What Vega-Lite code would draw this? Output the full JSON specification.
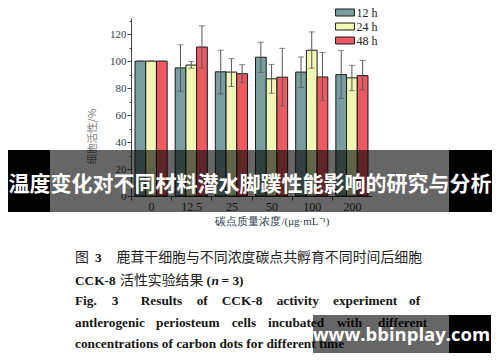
{
  "$schema": "https://vega.github.io/schema/vega-lite/v6.json",
  "width": 241,
  "height": 178,
  "autosize": {"type": "none"},
  "padding": {"left": 131, "top": 18, "right": 128, "bottom": 166},
  "background": "white",
  "config": {"view": {"stroke": null}},
  "datasets": {
    "bars": [
      {"conc": "0", "time": "12 h", "mean": 100, "lo": 100, "hi": 100},
      {"conc": "0", "time": "24 h", "mean": 100, "lo": 100, "hi": 100},
      {"conc": "0", "time": "48 h", "mean": 100, "lo": 100, "hi": 100},
      {"conc": "12.5", "time": "12 h", "mean": 95, "lo": 77.6, "hi": 112.1},
      {"conc": "12.5", "time": "24 h", "mean": 97.1, "lo": 94.8, "hi": 99.8},
      {"conc": "12.5", "time": "48 h", "mean": 110.5, "lo": 94.8, "hi": 126.2},
      {"conc": "25", "time": "12 h", "mean": 92.1, "lo": 75.7, "hi": 108.1},
      {"conc": "25", "time": "24 h", "mean": 91.9, "lo": 81.2, "hi": 101.9},
      {"conc": "25", "time": "48 h", "mean": 90.7, "lo": 84.3, "hi": 97.4},
      {"conc": "50", "time": "12 h", "mean": 102.9, "lo": 91.7, "hi": 114},
      {"conc": "50", "time": "24 h", "mean": 86.9, "lo": 76.2, "hi": 97.6},
      {"conc": "50", "time": "48 h", "mean": 88.1, "lo": 66.7, "hi": 109.5},
      {"conc": "100", "time": "12 h", "mean": 91.9, "lo": 80.5, "hi": 103.1},
      {"conc": "100", "time": "24 h", "mean": 108.1, "lo": 94.8, "hi": 121.7},
      {"conc": "100", "time": "48 h", "mean": 88.3, "lo": 70.7, "hi": 106.4},
      {"conc": "200", "time": "12 h", "mean": 90, "lo": 72.4, "hi": 107.9},
      {"conc": "200", "time": "24 h", "mean": 87.6, "lo": 78.1, "hi": 96.9},
      {"conc": "200", "time": "48 h", "mean": 89.3, "lo": 78.6, "hi": 100.5}
    ],
    "cn": [
      {"t": "图", "x": 75, "y": 258},
      {"t": "鹿茸干细胞与不同浓度碳点共孵育不同时间后细胞", "x": 116.5, "y": 258},
      {"t": "活性实验结果", "x": 120, "y": 281}
    ],
    "en": [
      {"t": "3", "x": 95, "y": 258},
      {"t": "CCK-8", "x": 75, "y": 281},
      {"t": "(", "x": 206.5, "y": 281},
      {"t": "= 3)", "x": 221.5, "y": 281},
      {"t": "Fig.", "x": 75, "y": 301},
      {"t": "3", "x": 111.7, "y": 301},
      {"t": "Results", "x": 140.7, "y": 301},
      {"t": "of", "x": 196.7, "y": 301},
      {"t": "CCK-8", "x": 221.7, "y": 301},
      {"t": "activity", "x": 276.7, "y": 301},
      {"t": "experiment", "x": 333, "y": 301},
      {"t": "of", "x": 409, "y": 301},
      {"t": "antlerogenic", "x": 75, "y": 322.5},
      {"t": "periosteum", "x": 156, "y": 322.5},
      {"t": "cells", "x": 231.7, "y": 322.5},
      {"t": "incubated", "x": 268, "y": 322.5},
      {"t": "with", "x": 337, "y": 322.5},
      {"t": "different", "x": 378, "y": 322.5},
      {"t": "concentrations of carbon dots for different time", "x": 75, "y": 344}
    ],
    "enItalic": [
      {"t": "n", "x": 211.5, "y": 281}
    ],
    "blackRects": [
      {"x": 8, "x2": 50, "y": 150, "y2": 212},
      {"x": 449, "x2": 492, "y": 150, "y2": 212},
      {"x": 449, "x2": 491, "y": 315, "y2": 353}
    ],
    "grayRects": [
      {"x": 50, "x2": 449, "y": 150, "y2": 212},
      {"x": 313, "x2": 449, "y": 315, "y2": 353}
    ],
    "banner": [
      {"t": "温度变化对不同材料潜水脚蹼性能影响的研究与分析", "x": 250, "y": 184.5}
    ],
    "wm": [
      {"t": "www.bbinplay.com", "x": 401.5, "y": 335}
    ]
  },
  "layer": [
    {
      "data": {"name": "bars"},
      "mark": {"type": "bar", "stroke": "#1a1a1a", "strokeWidth": 1},
      "encoding": {
        "x": {
          "field": "conc", "type": "nominal",
          "sort": ["0", "12.5", "25", "50", "100", "200"],
          "scale": {"paddingInner": 0.2, "paddingOuter": 0.1},
          "title": "碳点质量浓度/(μg·mL⁻¹)",
          "axis": {
            "labelAngle": 0, "labelFont": "Liberation Serif", "labelFontSize": 12, "labelColor": "#333333",
            "tickOffset": -20.08, "labelOffset": 20.08, "tickSize": 4, "domainColor": "#444444", "tickColor": "#444444",
            "labelPadding": 1, "titleFont": "Liberation Serif", "titleFontSize": 11, "titleFontWeight": "normal",
            "titleColor": "#2a3a4a", "titleX": 141, "titlePadding": 3
          }
        },
        "xOffset": {"field": "time", "type": "nominal", "scale": {"paddingInner": 0, "paddingOuter": 0}},
        "y": {
          "field": "mean", "type": "quantitative",
          "scale": {"domain": [0, 132], "nice": false},
          "title": "细胞活性/%",
          "axis": {
            "values": [0, 20, 40, 60, 80, 100, 120],
            "labelOverlap": false,
            "tickSize": 4,
            "domainColor": "#444444", "tickColor": "#444444", "grid": false,
            "labelFont": "Liberation Serif", "labelFontSize": 11, "labelColor": "#33404f", "labelPadding": 1,
            "titleFont": "Noto Sans CJK SC", "titleFontSize": 10.5, "titleColor": "#777777", "titleFontWeight": "normal",
            "titleX": -39, "titleY": 118, "titleAngle": -90, "titleBaseline": "middle", "titleAlign": "center"
          }
        },
        "color": {
          "field": "time", "type": "nominal",
          "scale": {"domain": ["12 h", "24 h", "48 h"], "range": ["#7A9E9E", "#F2F7B5", "#EE5A64"]},
          "legend": {
            "orient": "none", "legendX": 206.5, "legendY": -13, "title": null,
            "symbolType": "M-1.35,-0.5H1.35V0.5H-1.35Z", "symbolSize": 196,
            "symbolStrokeColor": "#1a1a1a", "symbolStrokeWidth": 1, "symbolOpacity": 1,
            "labelFont": "Liberation Serif", "labelFontSize": 12, "labelColor": "#222222",
            "rowPadding": 0, "labelOffset": 4
          }
        }
      }
    },
    {
      "data": {"name": "bars"},
      "mark": {"type": "rule", "color": "#555555", "strokeWidth": 1},
      "encoding": {
        "x": {"field": "conc", "type": "nominal", "sort": ["0", "12.5", "25", "50", "100", "200"], "scale": {"paddingInner": 0.2, "paddingOuter": 0.1}, "axis": null},
        "xOffset": {"field": "time", "type": "nominal", "scale": {"paddingInner": 0, "paddingOuter": 0}},
        "y": {
          "field": "lo", "type": "quantitative", "scale": {"domain": [0, 132], "nice": false},
          "axis": {"orient": "left", "values": [10, 30, 50, 70, 90, 110, 130], "labels": false, "domain": false, "grid": false, "tickSize": 2, "tickColor": "#444444", "title": null}
        },
        "y2": {"field": "hi"}
      }
    },
    {
      "data": {"name": "bars"},
      "mark": {"type": "tick", "color": "#555555", "thickness": 1, "size": 6, "orient": "horizontal"},
      "encoding": {
        "x": {"field": "conc", "type": "nominal", "sort": ["0", "12.5", "25", "50", "100", "200"], "scale": {"paddingInner": 0.2, "paddingOuter": 0.1}, "axis": null},
        "xOffset": {"field": "time", "type": "nominal", "scale": {"paddingInner": 0, "paddingOuter": 0}},
        "y": {"field": "hi", "type": "quantitative", "scale": {"domain": [0, 132], "nice": false}, "axis": null}
      }
    },
    {
      "data": {"name": "bars"},
      "mark": {"type": "tick", "color": "#555555", "thickness": 1, "size": 6, "orient": "horizontal"},
      "encoding": {
        "x": {"field": "conc", "type": "nominal", "sort": ["0", "12.5", "25", "50", "100", "200"], "scale": {"paddingInner": 0.2, "paddingOuter": 0.1}, "axis": null},
        "xOffset": {"field": "time", "type": "nominal", "scale": {"paddingInner": 0, "paddingOuter": 0}},
        "y": {"field": "lo", "type": "quantitative", "scale": {"domain": [0, 132], "nice": false}, "axis": null}
      }
    },
    {
      "data": {"name": "cn"},
      "mark": {"type": "text", "align": "left", "baseline": "middle", "font": "Noto Sans CJK SC", "fontSize": 13.9, "color": "#222222"},
      "encoding": {
        "x": {"field": "x", "type": "quantitative", "scale": {"domain": [131, 372], "nice": false, "zero": false}, "axis": null},
        "y": {"field": "y", "type": "quantitative", "scale": {"domain": [18, 196], "nice": false, "zero": false, "reverse": true}, "axis": null},
        "text": {"field": "t"}
      }
    },
    {
      "data": {"name": "en"},
      "mark": {"type": "text", "align": "left", "baseline": "middle", "font": "Liberation Serif", "fontWeight": "bold", "fontSize": 13.3, "color": "#151515"},
      "encoding": {
        "x": {"field": "x", "type": "quantitative", "scale": {"domain": [131, 372], "nice": false, "zero": false}, "axis": null},
        "y": {"field": "y", "type": "quantitative", "scale": {"domain": [18, 196], "nice": false, "zero": false, "reverse": true}, "axis": null},
        "text": {"field": "t"}
      }
    },
    {
      "data": {"name": "enItalic"},
      "mark": {"type": "text", "align": "left", "baseline": "middle", "font": "Liberation Serif", "fontWeight": "bold", "fontStyle": "italic", "fontSize": 13.3, "color": "#151515"},
      "encoding": {
        "x": {"field": "x", "type": "quantitative", "scale": {"domain": [131, 372], "nice": false, "zero": false}, "axis": null},
        "y": {"field": "y", "type": "quantitative", "scale": {"domain": [18, 196], "nice": false, "zero": false, "reverse": true}, "axis": null},
        "text": {"field": "t"}
      }
    },
    {
      "data": {"name": "grayRects"},
      "mark": {"type": "rect", "color": "#000000", "opacity": 0.6},
      "encoding": {
        "x": {"field": "x", "type": "quantitative", "scale": {"domain": [131, 372], "nice": false, "zero": false}, "axis": null},
        "x2": {"field": "x2"},
        "y": {"field": "y", "type": "quantitative", "scale": {"domain": [18, 196], "nice": false, "zero": false, "reverse": true}, "axis": null},
        "y2": {"field": "y2"}
      }
    },
    {
      "data": {"name": "blackRects"},
      "mark": {"type": "rect", "color": "#000000", "opacity": 1},
      "encoding": {
        "x": {"field": "x", "type": "quantitative", "scale": {"domain": [131, 372], "nice": false, "zero": false}, "axis": null},
        "x2": {"field": "x2"},
        "y": {"field": "y", "type": "quantitative", "scale": {"domain": [18, 196], "nice": false, "zero": false, "reverse": true}, "axis": null},
        "y2": {"field": "y2"}
      }
    },
    {
      "data": {"name": "banner"},
      "mark": {"type": "text", "align": "center", "baseline": "middle", "font": "Noto Sans CJK SC", "fontWeight": "bold", "fontSize": 21, "color": "#ffffff"},
      "encoding": {
        "x": {"field": "x", "type": "quantitative", "scale": {"domain": [131, 372], "nice": false, "zero": false}, "axis": null},
        "y": {"field": "y", "type": "quantitative", "scale": {"domain": [18, 196], "nice": false, "zero": false, "reverse": true}, "axis": null},
        "text": {"field": "t"}
      }
    },
    {
      "data": {"name": "wm"},
      "mark": {"type": "text", "align": "center", "baseline": "middle", "font": "Open Sans", "fontWeight": "bold", "fontSize": 18.5, "color": "#ffffff"},
      "encoding": {
        "x": {"field": "x", "type": "quantitative", "scale": {"domain": [131, 372], "nice": false, "zero": false}, "axis": null},
        "y": {"field": "y", "type": "quantitative", "scale": {"domain": [18, 196], "nice": false, "zero": false, "reverse": true}, "axis": null},
        "text": {"field": "t"}
      }
    }
  ],
  "resolve": {"scale": {"x": "independent", "y": "independent"}}
}
